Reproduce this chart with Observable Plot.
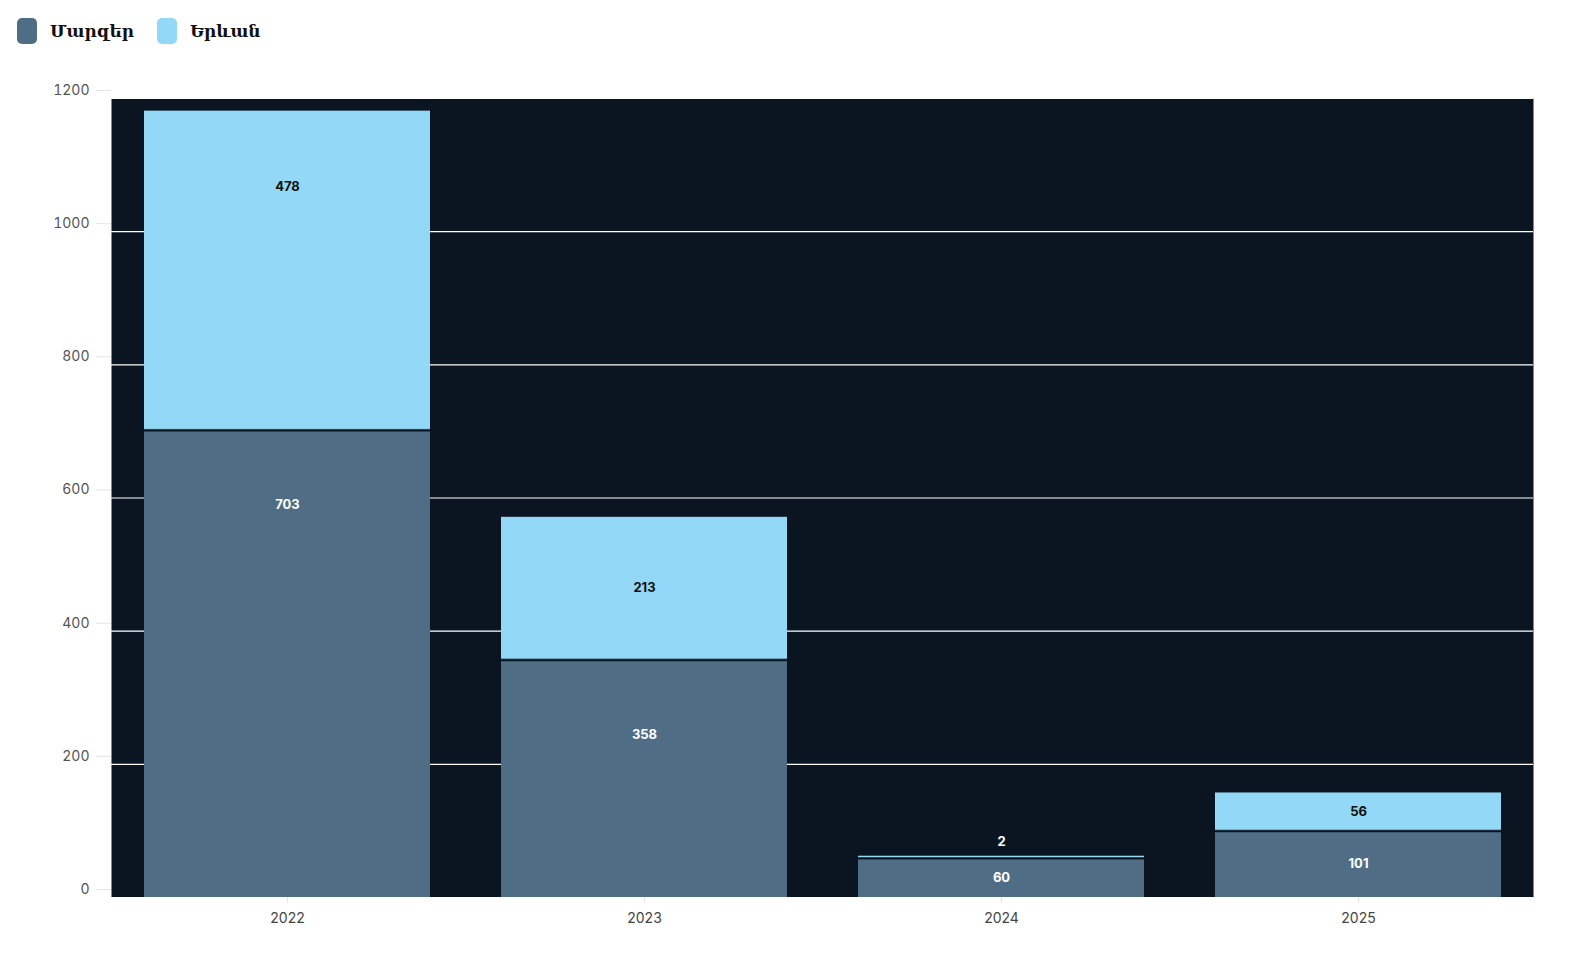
<!DOCTYPE html>
<html>
<head>
<meta charset="utf-8">
<script src="https://cdn.jsdelivr.net/npm/d3@7"></script>
<script src="https://cdn.jsdelivr.net/npm/@observablehq/plot@0.6"></script>
<style>
  html, body { margin: 0; background: #fff; overflow: hidden; font-family: Inter, "DejaVu Sans", sans-serif; }
  #legend { height: 60px; position: relative; }
  .item { position: absolute; top: 18px; display: flex; align-items: center; }
  .sw { width: 20px; height: 26px; border-radius: 5px; }
  .lbl { font-family: "DejaVu Serif", serif; font-weight: bold; font-size: 17px; color: #111; margin-left: 13px; line-height: 26px; }
  #chart svg { display: block; max-width: none !important; }
</style>
</head>
<body>
<div id="legend"></div>
<div id="chart"></div>
<script>
const years = ["2022", "2023", "2024", "2025"];
const seriesNames = ["Մարզեր", "Երևան"];
const marzer = [703, 358, 60, 101];
const yerevan = [478, 213, 2, 56];
const colors = ["#4f6e86", "#93d8f6"];
const yTicks = [0, 200, 400, 600, 800, 1000, 1200];

// legend
const legend = document.getElementById("legend");
const legendX = [17, 157];
seriesNames.forEach((s, i) => {
  const it = document.createElement("div");
  it.className = "item";
  it.style.left = legendX[i] + "px";
  it.innerHTML = `<div class="sw" style="background:${colors[i]}"></div><span class="lbl">${s}</span>`;
  legend.appendChild(it);
});

const rows = [];
years.forEach((y, i) => {
  rows.push({year: y, series: seriesNames[0], value: marzer[i]});
  rows.push({year: y, series: seriesNames[1], value: yerevan[i]});
});
const boundaries = years.map((y, i) => ({year: y, value: marzer[i]}));

// label positions (data units), placed near top of each segment
const labels = [];
years.forEach((y, i) => {
  let base = 0;
  [marzer[i], yerevan[i]].forEach((v, k) => {
    const top = base + v;
    const small = v < 5;
    labels.push({
      year: y,
      value: v,
      ly: small ? top + 22 : top - Math.min(113, v / 2),
      color: (k === 0 || small) ? "#ffffff" : "#111111"
    });
    base = top;
  });
});

const chart = Plot.plot({
  width: 1581,
  height: 887,
  marginTop: 38,
  marginBottom: 50,
  marginLeft: 111,
  marginRight: 48,
  style: { fontFamily: "Inter, 'DejaVu Sans', sans-serif", fontSize: "14px", background: "#fff", maxWidth: "none" },
  x: { domain: years, paddingInner: 0.2, paddingOuter: 0.09, label: null },
  y: { domain: [0, 1200], label: null },
  color: { domain: seriesNames, range: colors },
  marks: [
    Plot.frame({ fill: "#0b1522", stroke: null }),
    Plot.gridY(yTicks, { stroke: "#ffffff", strokeOpacity: 1, strokeWidth: 1.2 }),
    Plot.axisY(yTicks, { tickSize: 15, tickPadding: 7, stroke: "#e4e4e4", fill: "#555", dy: -8, fontSize: 14, tickFormat: d => String(d), label: null }),
    Plot.axisX({ tickSize: 6, tickPadding: 10, stroke: "#e4e4e4", fill: "#444", fontSize: 14, label: null }),
    Plot.barY(rows, { x: "year", y: "value", fill: "series", order: seriesNames }),
    Plot.tickY(boundaries, { x: "year", y: "value", stroke: "#0b1522", strokeWidth: 2, dy: 1 }),
    Plot.text(labels, { x: "year", y: "ly", text: d => String(d.value), fill: "color", fontWeight: "bold", fontSize: 13 })
  ]
});
document.getElementById("chart").appendChild(chart);
</script>
</body>
</html>
